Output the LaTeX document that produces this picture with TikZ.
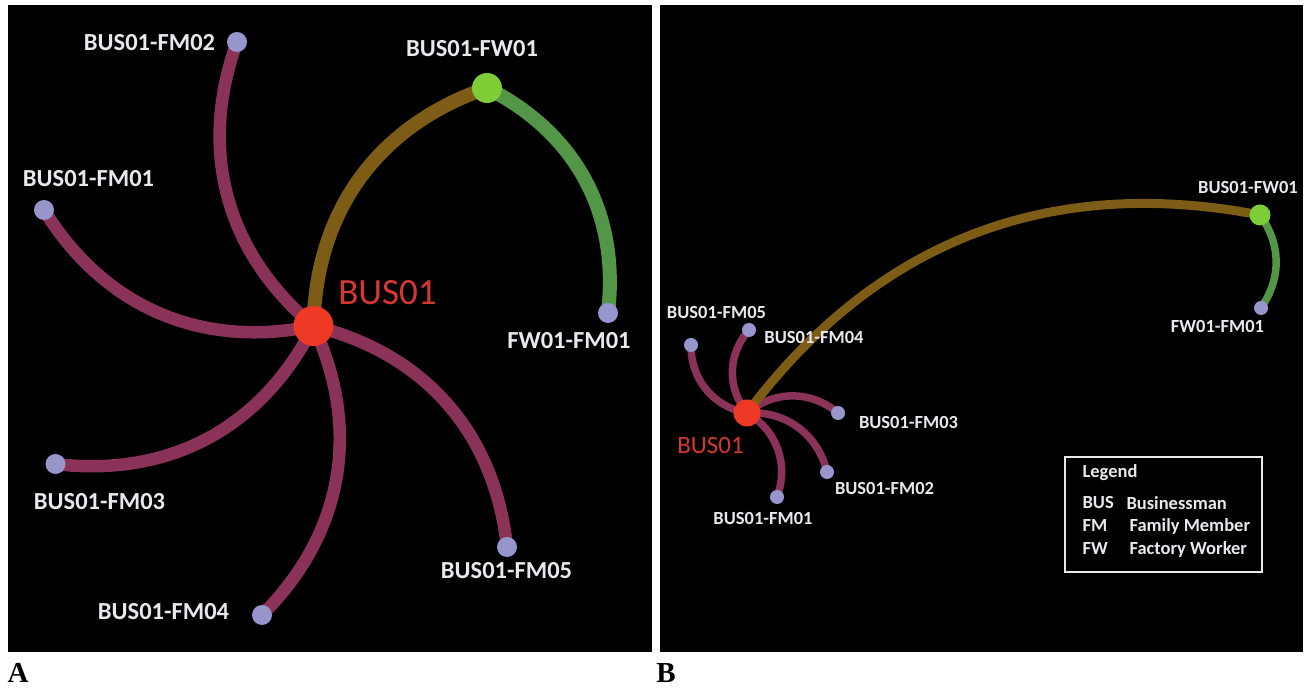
\documentclass[tikz,border=0pt]{standalone}
\usepackage{fontspec}
\setmainfont{Carlito}
\newfontfamily\panelfont{Liberation Serif}

\definecolor{famedge}{RGB}{138,50,88}
\definecolor{workedge}{RGB}{125,92,22}
\definecolor{fwedge}{RGB}{84,150,72}
\definecolor{leafdot}{RGB}{150,150,205}
\definecolor{fwdot}{RGB}{125,205,55}
\definecolor{busdot}{RGB}{238,58,36}
\definecolor{bustext}{RGB}{215,55,50}
\definecolor{nametext}{RGB}{232,232,238}

\pgfdeclarelayer{front}
\pgfsetlayers{main,front}

\tikzset{
  dot/.style={circle, inner sep=0pt, draw=none},
  busA/.style={dot, fill=busdot, minimum size=40pt},
  fwA/.style={dot, fill=fwdot, minimum size=30pt},
  leafA/.style={dot, fill=leafdot, minimum size=20pt},
  busB/.style={dot, fill=busdot, minimum size=27pt},
  fwB/.style={dot, fill=fwdot, minimum size=21pt},
  leafB/.style={dot, fill=leafdot, minimum size=14pt},
  nameA/.style={text=nametext, font=\fontsize{24.5}{28}\selectfont\bfseries},
  nameB/.style={text=nametext, font=\fontsize{18.5}{21}\selectfont\bfseries},
  legtext/.style={text=nametext, anchor=west, font=\fontsize{18.5}{21}\selectfont\bfseries},
  panellab/.style={font=\panelfont\fontsize{29}{32}\selectfont\bfseries},
  edgeA/.style={line width=12.5pt},
  edgeB/.style={line width=7.5pt}
}

\begin{document}
\begin{tikzpicture}[x=1pt,y=1pt]
  \useasboundingbox (0,0) rectangle (1306,690);
  \fill[white] (0,0) rectangle (1306,690);

  % the two black panels
  \fill[black] (8,38) rectangle (652,685);
  \fill[black] (660,38) rectangle (1303,685);

  \node[panellab] (labA) at (18,17) {A};
  \node[panellab] (labB) at (666,17) {B};

  % Panel A: nodes
  \begin{pgfonlayer}{front}
    \node[busA] (abus) at (313.5,364) {};
    \node[fwA] (afw) at (487,602) {};
    \node[leafA] (afwfm) at (608,377) {};
    \node[leafA] (afm01) at (44,480) {};
    \node[leafA] (afm02) at (237,648) {};
    \node[leafA] (afm03) at (55.5,226) {};
    \node[leafA] (afm04) at (262,75) {};
    \node[leafA] (afm05) at (507,143) {};

    \node[nameA] (tfm02) at (149.5,647) {BUS01-FM02};
    \node[nameA] (tfw) at (472,641) {BUS01-FW01};
    \node[nameA] (tfm01) at (88.5,511) {BUS01-FM01};
    \node[text=bustext, font=\fontsize{37}{40}\selectfont] (tbus) at (387.5,397) {BUS01};
    \node[nameA] (tfwfm) at (569,349) {FW01-FM01};
    \node[nameA] (tfm03) at (99.5,188) {BUS01-FM03};
    \node[nameA] (tfm05) at (506.5,119) {BUS01-FM05};
    \node[nameA] (tfm04) at (163.5,78) {BUS01-FM04};
  \end{pgfonlayer}

  % Panel A: edges
  \foreach \leaf in {afm01,afm02,afm03,afm04,afm05}
    \draw[edgeA, famedge] (abus.center) to[bend left=35] (\leaf.center);
  \draw[edgeA, workedge, line width=14pt] (abus.center) to[bend left=35] (afw.center);
  \draw[edgeA, fwedge, line width=14pt] (afw.center) to[bend left=35] (afwfm.center);

  % Panel B: nodes
  \begin{pgfonlayer}{front}
    \node[busB] (bbus) at (747,277) {};
    \node[fwB] (bfw) at (1260,475) {};
    \node[leafB] (bfwfm) at (1261,382) {};
    \node[leafB] (bfm01) at (777,193) {};
    \node[leafB] (bfm02) at (827,218) {};
    \node[leafB] (bfm03) at (838,277) {};
    \node[leafB] (bfm04) at (749,360) {};
    \node[leafB] (bfm05) at (691,345) {};

    \node[nameB] (ufm05) at (716.5,377) {BUS01-FM05};
    \node[nameB] (ufm04) at (814,352) {BUS01-FM04};
    \node[nameB] (ufm03) at (908.5,267) {BUS01-FM03};
    \node[nameB] (ufm02) at (884.5,201) {BUS01-FM02};
    \node[nameB] (ufm01) at (763,171) {BUS01-FM01};
    \node[text=bustext, font=\fontsize{25}{28}\selectfont] (ubus) at (710.5,245) {BUS01};
    \node[nameB] (ufw) at (1248,502) {BUS01-FW01};
    \node[nameB] (ufwfm) at (1217.5,363) {FW01-FM01};
  \end{pgfonlayer}

  % Panel B: edges
  \foreach \leaf in {bfm01,bfm02,bfm03,bfm04,bfm05}
    \draw[edgeB, famedge] (bbus.center) to[bend left=40] (\leaf.center);
  \draw[edgeB, workedge, line width=9pt] (bbus.center) to[bend left=32] (bfw.center);
  \draw[edgeB, fwedge] (bfw.center) to[bend left=35] (bfwfm.center);

  % Legend
  \draw[nametext, line width=2pt] (1065,118) rectangle (1262,233);
  \node[legtext] (leghead) at (1079,217) {Legend};
  \node[legtext] (legbus) at (1079,187) {BUS};
  \node[legtext] (legbusx) at (1123,187) {Businessman};
  \node[legtext] (legfm) at (1079,164) {FM};
  \node[legtext] (legfmx) at (1126,164) {Family Member};
  \node[legtext] (legfw) at (1079,141) {FW};
  \node[legtext] (legfwx) at (1126,141) {Factory Worker};
\end{tikzpicture}
\end{document}
